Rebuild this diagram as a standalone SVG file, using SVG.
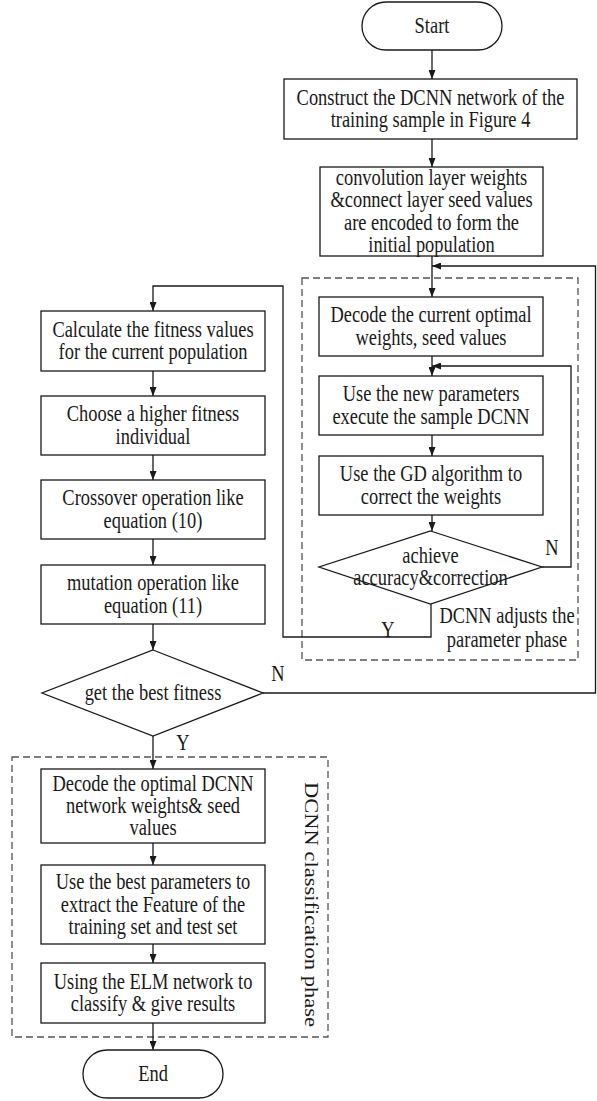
<svg xmlns="http://www.w3.org/2000/svg" width="597" height="1101" viewBox="0 0 597 1101">
<style>
.bg{fill:#ffffff}
.n{fill:#ffffff;stroke:#1a1a1a;stroke-width:1.3}
.c{fill:none;stroke:#1a1a1a;stroke-width:1.3}
.d{fill:none;stroke:#555555;stroke-width:1.3;stroke-dasharray:7 4}
.t{font-family:"Liberation Serif","Times New Roman",serif;font-size:22.5px;fill:#1a1a1a;text-anchor:middle}
</style>
<defs>
<marker id="ah" markerUnits="userSpaceOnUse" markerWidth="9" markerHeight="7" refX="9" refY="3.5" orient="auto">
<path d="M0,0 L9,3.5 L0,7 z" fill="#1a1a1a"/>
</marker>
</defs>
<rect class="bg" x="0" y="0" width="597" height="1101"/>

<g id="groups">
<rect id="adjust-phase" class="d" x="302" y="278" width="276" height="382"/>
<text class="t" transform="translate(507,623) scale(0.82,1)"><tspan x="0" y="0">DCNN adjusts the</tspan><tspan x="0" y="24">parameter phase</tspan></text>
<rect id="classification-phase" class="d" x="12" y="757" width="316" height="280"/>
<text class="t" transform="translate(305,904.5) rotate(90) scale(1,0.82)">DCNN classification phase</text>
</g>

<g id="connectors">
<path class="c" d="M432,50 V79" marker-end="url(#ah)"/>
<path class="c" d="M432,139 V167" marker-end="url(#ah)"/>
<path class="c" d="M432,256 V297" marker-end="url(#ah)"/>
<path class="c" d="M263,693 H595.5 V266 H432" marker-end="url(#ah)"/>
<path class="c" d="M432,356 V376" marker-end="url(#ah)"/>
<path class="c" d="M432,435 V456" marker-end="url(#ah)"/>
<path class="c" d="M432,515 V531" marker-end="url(#ah)"/>
<path class="c" d="M542,567 H571 V366 H432" marker-end="url(#ah)"/>
<path class="c" d="M431,604 V637 H283 V286 H153 V311" marker-end="url(#ah)"/>
<path class="c" d="M153,371 V396" marker-end="url(#ah)"/>
<path class="c" d="M153,455 V480" marker-end="url(#ah)"/>
<path class="c" d="M153,539 V565" marker-end="url(#ah)"/>
<path class="c" d="M153,624 V650" marker-end="url(#ah)"/>
<path class="c" d="M153,736 V769" marker-end="url(#ah)"/>
<path class="c" d="M153,843 V865" marker-end="url(#ah)"/>
<path class="c" d="M153,944 V963" marker-end="url(#ah)"/>
<path class="c" d="M153,1023 V1050" marker-end="url(#ah)"/>
<text class="t" transform="translate(552,555) scale(0.82,1)">N</text>
<text class="t" transform="translate(388,637) scale(0.82,1)">Y</text>
<text class="t" transform="translate(278,681) scale(0.82,1)">N</text>
<text class="t" transform="translate(183,750) scale(0.82,1)">Y</text>
</g>

<g id="start">
<rect class="n" x="362" y="2" width="140" height="48" rx="24"/>
<text class="t" transform="translate(432,26) scale(0.82,1)"><tspan x="0" y="7">Start</tspan></text>
</g>
<g id="construct">
<rect class="n" x="284" y="79" width="293" height="60"/>
<text class="t" transform="translate(430.5,109) scale(0.82,1)"><tspan x="0" y="-4.25">Construct the DCNN network of the</tspan><tspan x="0" y="18.25">training sample in Figure 4</tspan></text>
</g>
<g id="encode">
<rect class="n" x="320" y="167" width="223" height="89"/>
<text class="t" transform="translate(431.5,211.5) scale(0.82,1)"><tspan x="0" y="-26.75">convolution layer weights</tspan><tspan x="0" y="-4.25">&amp;connect layer seed values</tspan><tspan x="0" y="18.25">are encoded to form the</tspan><tspan x="0" y="40.75">initial population</tspan></text>
</g>
<g id="decode-current">
<rect class="n" x="319" y="297" width="224" height="59"/>
<text class="t" transform="translate(431,326.5) scale(0.82,1)"><tspan x="0" y="-4.25">Decode the current optimal</tspan><tspan x="0" y="18.25">weights, seed values</tspan></text>
</g>
<g id="execute">
<rect class="n" x="319" y="376" width="224" height="59"/>
<text class="t" transform="translate(431,405.5) scale(0.82,1)"><tspan x="0" y="-4.25">Use the new parameters</tspan><tspan x="0" y="18.25">execute the sample DCNN</tspan></text>
</g>
<g id="gd">
<rect class="n" x="319" y="456" width="224" height="59"/>
<text class="t" transform="translate(431,485.5) scale(0.82,1)"><tspan x="0" y="-4.25">Use the GD algorithm to</tspan><tspan x="0" y="18.25">correct the weights</tspan></text>
</g>
<g id="accuracy">
<polygon class="n" points="430.5,531 542,567 430.5,604 319,567"/>
<text class="t" transform="translate(430.5,567) scale(0.82,1)"><tspan x="0" y="-4.25">achieve</tspan><tspan x="0" y="18.25">accuracy&amp;correction</tspan></text>
</g>
<g id="fitness">
<rect class="n" x="41" y="311" width="224" height="60"/>
<text class="t" transform="translate(153,341) scale(0.82,1)"><tspan x="0" y="-4.25">Calculate the fitness values</tspan><tspan x="0" y="18.25">for the current population</tspan></text>
</g>
<g id="choose">
<rect class="n" x="41" y="396" width="224" height="59"/>
<text class="t" transform="translate(153,425.5) scale(0.82,1)"><tspan x="0" y="-4.25">Choose a higher fitness</tspan><tspan x="0" y="18.25">individual</tspan></text>
</g>
<g id="crossover">
<rect class="n" x="41" y="480" width="224" height="59"/>
<text class="t" transform="translate(153,509.5) scale(0.82,1)"><tspan x="0" y="-4.25">Crossover operation like</tspan><tspan x="0" y="18.25">equation (10)</tspan></text>
</g>
<g id="mutation">
<rect class="n" x="41" y="565" width="224" height="59"/>
<text class="t" transform="translate(153,594.5) scale(0.82,1)"><tspan x="0" y="-4.25">mutation operation like</tspan><tspan x="0" y="18.25">equation (11)</tspan></text>
</g>
<g id="best-fitness">
<polygon class="n" points="153,650 263,693 153,736 42,693"/>
<text class="t" transform="translate(153,693) scale(0.82,1)"><tspan x="0" y="7">get the best fitness</tspan></text>
</g>
<g id="decode-optimal">
<rect class="n" x="41" y="769" width="224" height="74"/>
<text class="t" transform="translate(153,806) scale(0.82,1)"><tspan x="0" y="-15.5">Decode the optimal DCNN</tspan><tspan x="0" y="7">network weights&amp; seed</tspan><tspan x="0" y="29.5">values</tspan></text>
</g>
<g id="extract">
<rect class="n" x="41" y="865" width="224" height="79"/>
<text class="t" transform="translate(153,904.5) scale(0.82,1)"><tspan x="0" y="-15.5">Use the best parameters to</tspan><tspan x="0" y="7">extract the Feature of the</tspan><tspan x="0" y="29.5">training set and test set</tspan></text>
</g>
<g id="elm">
<rect class="n" x="41" y="963" width="224" height="60"/>
<text class="t" transform="translate(153,993) scale(0.82,1)"><tspan x="0" y="-4.25">Using the ELM network to</tspan><tspan x="0" y="18.25">classify &amp; give results</tspan></text>
</g>
<g id="end">
<rect class="n" x="83" y="1050" width="140" height="48" rx="24"/>
<text class="t" transform="translate(153,1074) scale(0.82,1)"><tspan x="0" y="7">End</tspan></text>
</g>
</svg>
